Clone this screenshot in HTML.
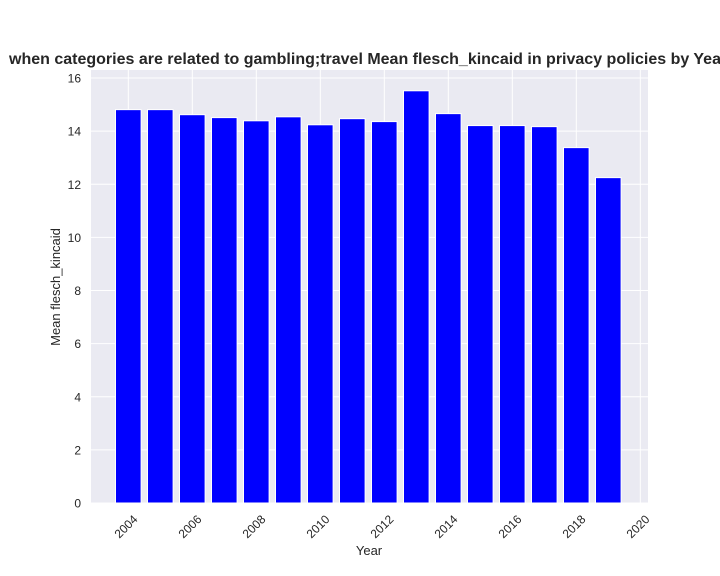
<!DOCTYPE html>
<html><head><meta charset="utf-8"><style>body{margin:0;background:#fff}svg{display:block;font-family:"Liberation Sans",Arial,sans-serif}</style></head>
<body>
<svg id="chart" width="720" height="576" viewBox="0 0 720 576" xmlns="http://www.w3.org/2000/svg">
<text x="9" y="64" font-size="16" font-weight="bold" fill="#262626">when categories are related to gambling;travel Mean flesch_kincaid in privacy policies by Year</text>
<rect x="91" y="70" width="557" height="433" fill="#eaeaf2"/>
<g id="grid"></g><g id="bars"></g><g id="axes"></g>
<text x="369" y="555" font-size="13" text-anchor="middle" fill="#262626">Year</text>
<text transform="translate(60,287) rotate(-90)" font-size="13" text-anchor="middle" fill="#262626">Mean flesch_kincaid</text>
</svg>
<script>
const years=[2004,2005,2006,2007,2008,2009,2010,2011,2012,2013,2014,2015,2016,2017,2018,2019];
const values=[14.81,14.81,14.62,14.51,14.39,14.54,14.24,14.47,14.36,15.52,14.66,14.21,14.21,14.17,13.38,12.25];
const xTicks=[2004,2006,2008,2010,2012,2014,2016,2018,2020];
const yTicks=[0,2,4,6,8,10,12,14,16];
const NS="http://www.w3.org/2000/svg";
const x=v=>128.3+(v-2004)*32;
const y=v=>503-v*26.56;
function mk(t,a,p){const e=document.createElementNS(NS,t);for(const k in a)e.setAttribute(k,a[k]);p.appendChild(e);return e;}
const grid=document.getElementById('grid'),bars=document.getElementById('bars'),axes=document.getElementById('axes');
xTicks.forEach(t=>{
const l=mk('line',{x1:x(t),x2:x(t),y1:70,y2:503,stroke:'#fff','stroke-width':1},grid);


const tx=mk('text',{transform:`translate(${x(t)+10},${520}) rotate(-45)`,'font-size':12,'text-anchor':'end',fill:'#262626'},axes);
tx.textContent=t;


});
yTicks.forEach(t=>{
const l=mk('line',{x1:91,x2:648,y1:y(t),y2:y(t),stroke:'#fff','stroke-width':1},grid);


const tx=mk('text',{x:81,y:y(t)+4.5,'font-size':12,'text-anchor':'end',fill:'#262626'},axes);
tx.textContent=t;


});
years.forEach((yr,i)=>{
const w=25.6;
const r=mk('rect',{x:x(yr)-w/2,y:y(values[i]),width:w,height:y(0)-y(values[i]),fill:'#0000ff',stroke:'#fff','stroke-width':1},bars);


});
</script>
</body></html>
